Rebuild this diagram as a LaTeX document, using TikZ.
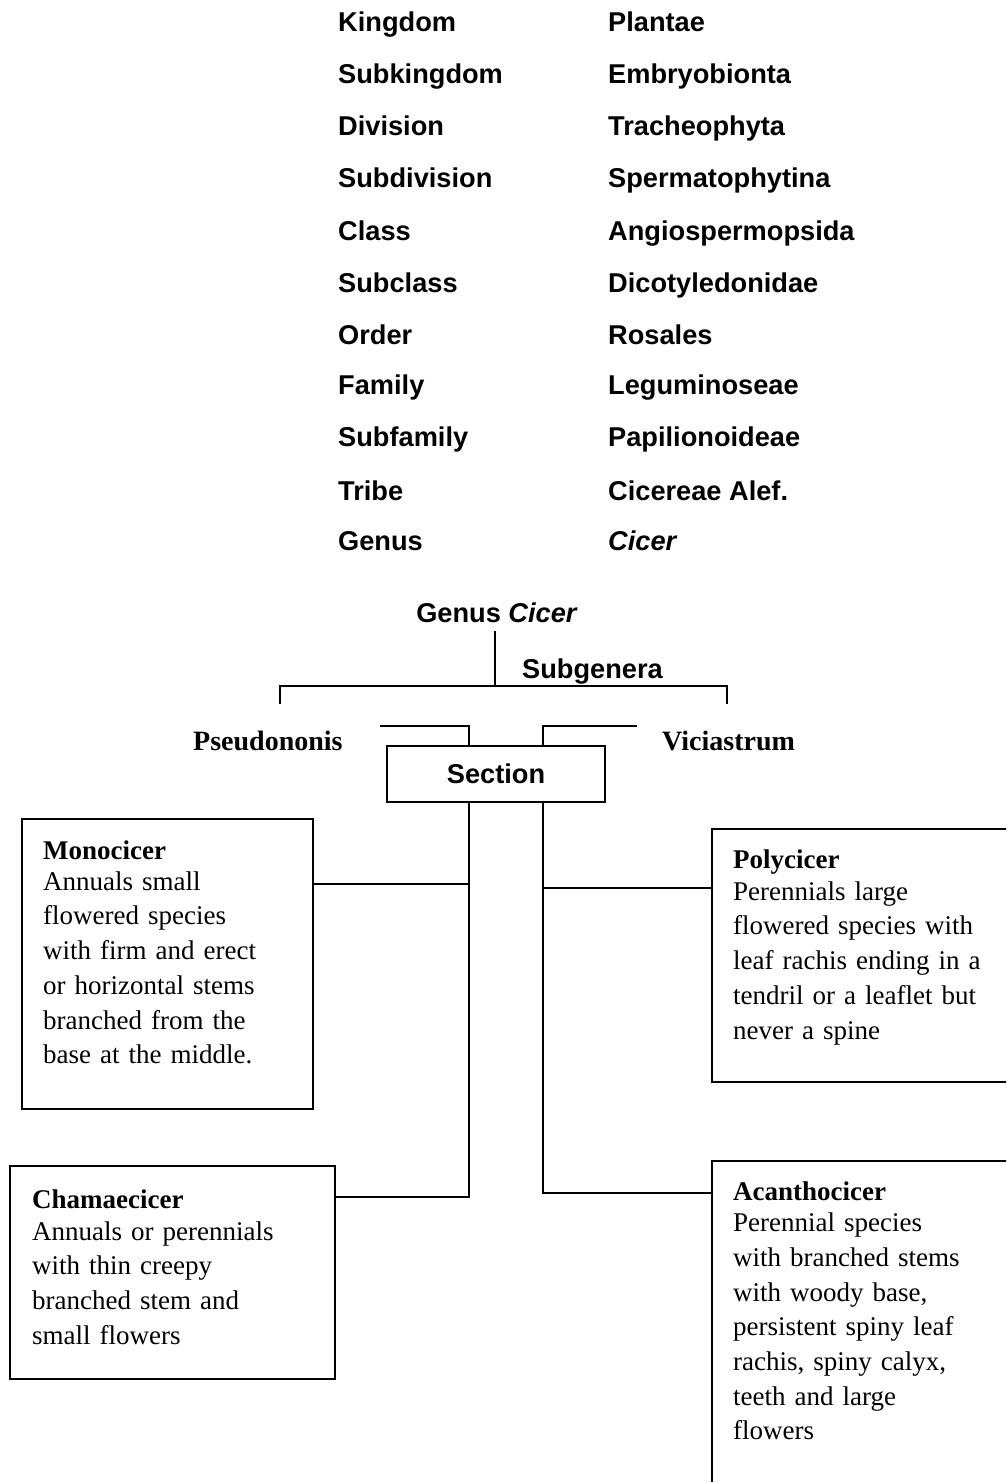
\documentclass[tikz,border=0pt]{standalone}
\usepackage{fontspec}
\setmainfont{Liberation Serif}
\newfontfamily\arialf{Liberation Sans}
\begin{document}
\begin{tikzpicture}[x=1pt,y=-1pt,
  tax/.style={font=\arialf\bfseries\fontsize{27.2}{33}\selectfont, anchor=base west, inner sep=0pt},
  sublab/.style={font=\bfseries\fontsize{28}{33}\selectfont, anchor=base west, inner sep=0pt},
  box/.style={draw, line width=2.2pt, inner sep=0pt, anchor=north west},
  txt/.style={anchor=base west, inner sep=0pt, align=left, text width=300pt,
    font=\fontsize{27}{34.7}\selectfont},
  conn/.style={line width=2.2pt}]
\clip (0,0) rectangle (1006,1482);
\useasboundingbox (0,0) rectangle (1006,1482);

% taxonomy table
\foreach \a/\b/\y [count=\i] in {Kingdom/Plantae/32, Subkingdom/Embryobionta/84,
  Division/Tracheophyta/136, Subdivision/Spermatophytina/188, Class/Angiospermopsida/240,
  Subclass/Dicotyledonidae/292, Order/Rosales/344, Family/Leguminoseae/394,
  Subfamily/Papilionoideae/446, Tribe/Cicereae Alef./500, Genus/\textit{Cicer}/550}{
  \node[tax] (rank\i) at (338,\y) {\a};
  \node[tax] (taxon\i) at (608,\y) {\b};
}

% genus / subgenera
\node[tax, anchor=base] (genus) at (497,622) {Genus \textit{Cicer}};
\node[tax] (subg) at (522,678) {Subgenera};
\node[sublab] (pseudo) at (193,750) {Pseudononis};
\node[sublab] (vicia) at (662,750) {Viciastrum};
\node[draw, line width=2.2pt, minimum width=218pt, minimum height=56pt, inner sep=0pt,
  font=\arialf\bfseries\fontsize{27.2}{33}\selectfont] (section) at (496,774) {Section};

\coordinate (gt) at (495,631);
\coordinate (gb) at (495,686);
\coordinate (bl) at (280,686);
\coordinate (br) at (727,686);
\coordinate (blt) at (280,704);
\coordinate (brt) at (727,704);
\draw[conn] (gt) -- (gb);
\draw[conn] (blt) -- (bl) -- (br) -- (brt);

\coordinate (jl1) at (469,726);
\coordinate (jl2) at (380,726);
\coordinate (jr1) at (543,726);
\coordinate (jr2) at (637,726);
\draw[conn] (jl2) -- (jl1) -- (section.north -| jl1);
\draw[conn] (jr2) -- (jr1) -- (section.north -| jr1);

% boxes
\node[box, minimum width=291pt, minimum height=290pt] (mono) at (21,818) {};
\node[box, minimum width=320pt, minimum height=253pt] (poly) at (711,828) {};
\node[box, minimum width=325pt, minimum height=213pt] (chama) at (9,1165) {};
\node[box, minimum width=320pt, minimum height=360pt] (acan) at (711,1160) {};

\node[txt] (monot) at (43,859) {\textbf{Monocicer}\\[-3.5pt]
Annuals small\\ flowered species\\ with firm and erect\\ or horizontal stems\\
branched from the\\ base at the middle.};
\node[txt] (polyt) at (733,868) {\textbf{Polycicer}\\[-2.5pt]
Perennials large\\ flowered species with\\ leaf rachis ending in a\\
tendril or a leaflet but\\ never a spine};
\node[txt] (chamat) at (32,1208) {\textbf{Chamaecicer}\\[-2.5pt]
Annuals or perennials\\ with thin creepy\\ branched stem and\\ small flowers};
\node[txt] (acant) at (733,1200) {\textbf{Acanthocicer}\\[-3pt]
Perennial species\\ with branched stems\\ with woody base,\\ persistent spiny leaf\\
rachis, spiny calyx,\\ teeth and large\\ flowers};

% section trunks
\coordinate (lm) at (469,884);
\coordinate (lb) at (469,1197);
\coordinate (rp) at (543,888);
\coordinate (rb) at (543,1193);
\draw[conn] (section.south -| lb) -- (lb) -- (chama.east |- lb);
\draw[conn] (mono.east |- lm) -- (lm);
\draw[conn] (section.south -| rb) -- (rb) -- (acan.west |- rb);
\draw[conn] (rp) -- (poly.west |- rp);
\end{tikzpicture}
\end{document}
